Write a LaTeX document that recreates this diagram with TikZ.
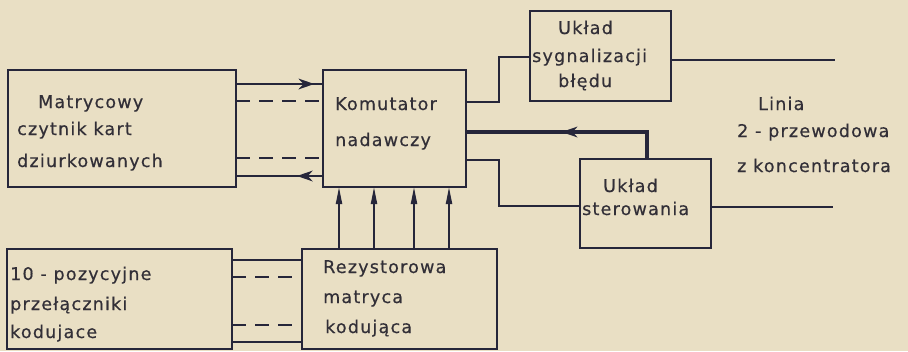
\documentclass[tikz,border=0pt]{standalone}
\usepackage{fontspec}
\setmainfont{DejaVu Sans}[LetterSpace=7,FakeBold=0.5]
\usetikzlibrary{arrows.meta,decorations.markings}
\definecolor{paper}{RGB}{233,223,196}
\definecolor{ink}{RGB}{38,38,58}
\definecolor{txt}{RGB}{50,47,55}
\begin{document}
\begin{tikzpicture}[x=1pt,y=-1pt,
  box/.style={draw=ink,line width=1.5pt,anchor=north west,inner sep=0pt,outer sep=0pt,rectangle},
  lbl/.style={anchor=base west,inner sep=0pt,text=txt,font=\fontsize{17.5}{19}\selectfont},
  wire/.style={draw=ink,line width=1.5pt},
  dwire/.style={wire,dash pattern=on 14pt off 9pt},
  thickwire/.style={draw=ink,line width=3.2pt},
  midarrow/.style={postaction={decorate},decoration={markings,
      mark=at position #1 with {\arrow{Stealth[length=16pt,width=11pt,line width=0pt]}}}},
  uparrow/.style={-{Triangle[length=17pt,width=6pt]}}
]
\fill[paper] (0,0) rectangle (908,351);
\useasboundingbox (0,0) rectangle (908,351);

% boxes
\node[box,minimum width=228pt,minimum height=117pt] (mat) at (8,70) {};
\node[box,minimum width=143pt,minimum height=117pt] (kom) at (323,70) {};
\node[box,minimum width=141pt,minimum height=90pt] (syg) at (530,11) {};
\node[box,minimum width=131pt,minimum height=89pt] (ster) at (580,159) {};
\node[box,minimum width=225pt,minimum height=100pt] (poz) at (7,249) {};
\node[box,minimum width=195pt,minimum height=100pt] (rez) at (302,249) {};

% labels
\node[lbl] (m1) at (38,108) {Matrycowy};
\node[lbl] (m2) at (17,135) {czytnik kart};
\node[lbl] (m3) at (17,167) {dziurkowanych};
\node[lbl] (k1) at (335,110) {Komutator};
\node[lbl] (k2) at (335,146) {nadawczy};
\node[lbl] (s1) at (558,34) {Układ};
\node[lbl] (s2) at (532,62) {sygnalizacji};
\node[lbl] (s3) at (558,87) {błędu};
\node[lbl] (r1) at (603,192) {Układ};
\node[lbl] (r2) at (582,215) {sterowania};
\node[lbl] (l1) at (758,110) {Linia};
\node[lbl] (l2) at (737,137) {2 - przewodowa};
\node[lbl] (l3) at (737,172) {z koncentratora};
\node[lbl] (p1) at (10,280) {10 - pozycyjne};
\node[lbl] (p2) at (10,310) {przełączniki};
\node[lbl] (p3) at (10,338) {kodujace};
\node[lbl] (z1) at (323,273) {Rezystorowa};
\node[lbl] (z2) at (323,303) {matryca};
\node[lbl] (z3) at (325,333) {kodująca};

% reader <-> commutator
\draw[wire,midarrow=0.90] (mat.east |- 0,84) -- (kom.west |- 0,84);
\draw[dwire] (mat.east |- 0,101) -- (kom.west |- 0,101);
\draw[dwire] (mat.east |- 0,158) -- (kom.west |- 0,158);
\draw[wire,midarrow=0.30] (kom.west |- 0,176) -- (mat.east |- 0,176);

% switches -- matrix
\draw[wire] (poz.east |- 0,260) -- (rez.west |- 0,260);
\draw[dwire] (poz.east |- 0,277) -- (rez.west |- 0,277);
\draw[dwire] (poz.east |- 0,325) -- (rez.west |- 0,325);
\draw[wire] (poz.east |- 0,342) -- (rez.west |- 0,342);

% matrix -> commutator
\foreach \xx in {339,374,414,449}
  \draw[wire,line width=2pt,uparrow] (rez.north -| \xx,0) -- (kom.south -| \xx,0);

% commutator -> error signalling
\draw[wire] (kom.east |- 0,102) -- (499,102) -- (499,57) -- (syg.west |- 0,57);
% commutator -> control
\draw[wire] (kom.east |- 0,160) -- (499,160) -- (499,206) -- (ster.west |- 0,206);
% control -> commutator (thick)
\draw[thickwire,midarrow=0.54] (ster.north -| 647,0) -- (647,132) -- (kom.east |- 0,132);

% line to concentrator
\coordinate (e1) at (835,60);
\coordinate (e2) at (833,207);
\draw[wire] (syg.east |- e1) -- (e1);
\draw[wire] (ster.east |- e2) -- (e2);
\end{tikzpicture}
\end{document}
